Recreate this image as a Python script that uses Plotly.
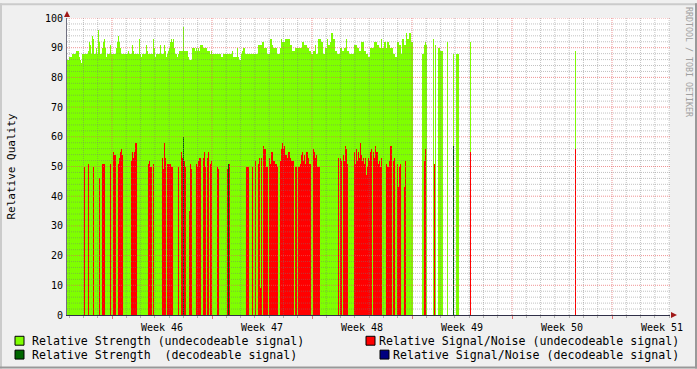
import plotly.graph_objects as go
from datetime import datetime, timedelta

# ---------------- data ----------------
# time base: one sample = 1.68 h (RRD consolidation step); sample 112 = start of ISO week 46 (2010-11-15)
ORIGIN = datetime(2010, 11, 7, 3, 50, 24)
STEP_H = 1.68
FIRST_SAMPLE, LAST_SAMPLE = 67, 670

# Relative Strength (undecodeable signal): continuous samples 67..412
strength_undec_main = [
    86, 86, 87, 87, 87, 88, 88, 88, 88, 89,
    89, 89, 87, 86, 85, 88, 88, 88, 88, 88,
    88, 89, 92, 91, 88, 94, 93, 88, 88, 90,
    88, 96, 92, 88, 88, 90, 92, 93, 90, 87,
    88, 88, 88, 91, 88, 88, 88, 88, 88, 90,
    92, 94, 92, 90, 88, 88, 88, 88, 88, 88,
    88, 89, 88, 88, 88, 91, 89, 88, 88, 88,
    88, 88, 93, 88, 87, 88, 88, 88, 88, 91,
    89, 88, 88, 88, 88, 88, 93, 90, 87, 88,
    88, 88, 88, 91, 88, 88, 88, 91, 89, 87,
    88, 89, 90, 92, 93, 92, 93, 90, 88, 88,
    87, 88, 89, 89, 89, 89, 97, 89, 89, 89,
    89, 87, 86, 86, 86, 90, 90, 90, 89, 90,
    89, 90, 89, 91, 91, 91, 90, 90, 90, 90,
    89, 89, 89, 88, 89, 88, 88, 88, 88, 88,
    88, 88, 88, 88, 87, 87, 88, 88, 88, 88,
    88, 88, 88, 88, 88, 89, 87, 87, 87, 87,
    90, 87, 86, 86, 88, 89, 90, 90, 88, 88,
    88, 88, 88, 88, 88, 88, 88, 88, 88, 88,
    88, 91, 91, 91, 91, 92, 92, 90, 90, 90,
    88, 88, 88, 93, 93, 91, 90, 90, 90, 90,
    88, 88, 88, 90, 93, 92, 92, 92, 93, 93,
    93, 93, 93, 91, 91, 89, 89, 89, 90, 90,
    90, 90, 90, 90, 90, 92, 92, 91, 91, 91,
    90, 90, 89, 89, 88, 88, 89, 89, 91, 88,
    88, 93, 93, 93, 92, 92, 88, 88, 90, 90,
    93, 91, 91, 92, 95, 95, 93, 93, 89, 89,
    88, 88, 88, 90, 90, 89, 89, 90, 90, 93,
    89, 89, 88, 88, 88, 88, 88, 91, 91, 91,
    90, 90, 89, 89, 92, 92, 92, 89, 89, 88,
    88, 87, 87, 90, 90, 90, 90, 92, 92, 92,
    91, 91, 90, 90, 93, 90, 90, 92, 92, 90,
    92, 92, 91, 90, 90, 90, 88, 88, 87, 87,
    92, 92, 91, 91, 88, 93, 93, 91, 91, 95,
    93, 93, 95, 95, 92, 92,
]
# Relative Strength (undecodeable signal): isolated later samples
strength_undec_late_s = [422, 423, 424, 425, 426, 433, 435, 438, 439, 440, 441, 442, 447, 453, 456, 457, 458, 470, 575]
strength_undec_late_v = [88, 88, 91, 92, 91, 93, 91, 90, 90, 89, 89, 89, 92, 88, 88, 88, 88, 92, 89]

# Relative Signal/Noise (undecodeable signal)
snr_undec_s = [
    84, 88, 93, 99, 102, 103, 104, 110, 113, 114, 115, 118, 119, 120, 121, 122,
    131, 132, 133, 134, 135, 136, 148, 149, 150, 151, 153, 162, 163, 164, 165,
    167, 168, 169, 170, 171, 172, 178, 181, 182, 183, 184, 185, 189, 190, 191,
    196, 197, 198, 199, 200, 203, 204, 205, 207, 208, 210, 211, 217, 218, 227, 229,
    246, 247, 248, 252, 255, 258, 259, 260, 261, 263, 264, 265, 266, 267, 269, 270,
    271, 272, 273, 274, 275, 276, 277, 280, 281, 282, 283, 284, 285, 286, 287, 288,
    289, 290, 291, 292, 293, 295, 296, 298, 299, 300, 301, 302, 303, 304, 305, 306,
    307, 308, 309, 310, 313, 314, 315, 316, 317, 318, 319, 338, 340, 341, 343, 344,
    345, 346, 347, 354, 355, 356, 357, 358, 359, 360, 361, 362, 363, 364, 365, 366,
    367, 368, 369, 370, 371, 373, 374, 375, 376, 377, 378, 379, 380, 381, 386, 387,
    388, 389, 390, 391, 393, 394, 397, 398, 399, 400, 404, 405, 424, 425, 434, 470, 575,
]
snr_undec_v = [
    50, 51, 50, 46, 51, 51, 51, 51, 55, 54, 54, 51, 53, 55, 56, 54,
    52, 55, 53, 55, 58, 58, 51, 52, 50, 50, 51, 53, 49, 58, 53,
    51, 51, 51, 51, 50, 50, 50, 55, 53, 60, 52, 50, 35, 51, 49,
    51, 50, 52, 53, 53, 53, 55, 50, 53, 55, 51, 52, 50, 49, 49, 51,
    50, 50, 50, 50, 52, 51, 53, 9, 53, 57, 56, 56, 50, 50, 53, 51,
    55, 55, 52, 52, 51, 51, 50, 52, 56, 58, 56, 57, 54, 54, 53, 55,
    55, 53, 52, 52, 52, 50, 50, 50, 50, 51, 54, 55, 52, 54, 51, 55,
    55, 53, 51, 51, 56, 55, 53, 54, 50, 50, 50, 53, 53, 52, 54, 52,
    57, 56, 51, 55, 51, 56, 52, 55, 53, 58, 54, 52, 53, 51, 53, 47,
    50, 53, 52, 55, 56, 55, 53, 57, 55, 55, 51, 52, 50, 53, 51, 50,
    50, 52, 57, 57, 52, 53, 51, 43, 50, 51, 43, 52, 52, 56, 51, 55, 56,
]

# Relative Strength (decodeable signal)
strength_dec_s = [183, 228, 453]
strength_dec_v = [60, 51, 57]

# Relative Signal/Noise (decodeable signal)
snr_dec_s = []
snr_dec_v = []

# ---------------- styling ----------------
C_GREEN = "#7FFF00"
C_RED = "#FF0000"
C_DGREEN = "#006600"
C_NAVY = "#000080"
FONT = "DejaVu Sans Mono"

W, H = 697, 369
PL, PR, PT, PB = 67, 670, 15, 315  # plot area in pixels


def t(s):
    return ORIGIN + timedelta(hours=STEP_H * (s + 0.5))


def px2x(px):
    return (px - PL) / (PR - PL)


def py2y(py):
    return (PB - py) / (PB - PT)


bar_w = STEP_H * 3600 * 1000

fig = go.Figure()
main_s = list(range(FIRST_SAMPLE, FIRST_SAMPLE + len(strength_undec_main)))
series = [
    (main_s + strength_undec_late_s, strength_undec_main + strength_undec_late_v, C_GREEN),
    (snr_undec_s, snr_undec_v, C_RED),
    (strength_dec_s, strength_dec_v, C_DGREEN),
    (snr_dec_s, snr_dec_v, C_NAVY),
]
for s_list, v_list, col in series:
    fig.add_trace(go.Bar(
        x=[t(s) for s in s_list], y=v_list, width=bar_w,
        marker=dict(color=col, line=dict(width=0)),
        hoverinfo="skip", showlegend=False,
    ))

x0 = ORIGIN + timedelta(hours=STEP_H * FIRST_SAMPLE)
x1 = ORIGIN + timedelta(hours=STEP_H * LAST_SAMPLE)

shapes = []
# grid drawn above the data, like rrdtool
MINOR = "rgba(120,120,120,0.45)"
MAJOR = "rgba(230,90,90,0.65)"
d = datetime(x0.year, x0.month, x0.day) + timedelta(days=1)
while d < x1:
    shapes.append(dict(type="line", xref="x", yref="paper", x0=d, x1=d, y0=0, y1=1,
                       line=dict(color=MAJOR if d.weekday() == 0 else MINOR, width=1, dash="1px,1px"),
                       layer="above"))
    d += timedelta(days=1)
for v in range(2, 101, 2):
    shapes.append(dict(type="line", xref="paper", yref="y", x0=0, x1=1, y0=v, y1=v,
                       line=dict(color=MAJOR if v % 10 == 0 else MINOR, width=1, dash="1px,1px"),
                       layer="above"))

# axis arrows
ARROW = "#A01818"
shapes.append(dict(type="path", xref="paper", yref="paper",
                   path=f"M {px2x(64)} {py2y(14)} L {px2x(67)} {py2y(8)} L {px2x(70)} {py2y(14)} Z",
                   fillcolor=ARROW, line=dict(width=0), layer="above"))
shapes.append(dict(type="path", xref="paper", yref="paper",
                   path=f"M {px2x(671)} {py2y(312)} L {px2x(677)} {py2y(315)} L {px2x(671)} {py2y(318)} Z",
                   fillcolor=ARROW, line=dict(width=0), layer="above"))

# outer 3D frame
def pline(xa, ya, xb, yb, col):
    shapes.append(dict(type="line", xref="paper", yref="paper",
                       x0=px2x(xa), y0=py2y(ya), x1=px2x(xb), y1=py2y(yb),
                       line=dict(color=col, width=2), layer="above"))

pline(0, 1, W, 1, "#CBCBCB")
pline(1, 0, 1, H, "#CBCBCB")
pline(0, H - 1, W, H - 1, "#999999")
pline(W - 1, 0, W - 1, H, "#999999")

# legend
annotations = []
LEG_FS = 11.6
legend_items = [
    (15, 341, C_GREEN, "Relative Strength (undecodeable signal)", 30, "left"),
    (366, 341, C_RED, "Relative Signal/Noise (undecodeable signal)", 681, "right"),
    (15, 355, C_DGREEN, "Relative Strength \u00a0(decodeable signal)", 30, "left"),
    (380, 355, C_NAVY, "Relative Signal/Noise (decodeable signal)", 681, "right"),
]
for bx, cy, col, txt, tx, anchor in legend_items:
    shapes.append(dict(type="rect", xref="paper", yref="paper",
                       x0=px2x(bx), x1=px2x(bx + 9), y0=py2y(cy - 4.5), y1=py2y(cy + 4.5),
                       fillcolor=col, line=dict(color="#000000", width=1), layer="above"))
    annotations.append(dict(xref="paper", yref="paper", x=px2x(tx), y=py2y(cy),
                            xanchor=anchor, yanchor="middle", text=txt, showarrow=False,
                            font=dict(family=FONT, size=LEG_FS, color="#000000")))

annotations.append(dict(xref="paper", yref="paper", x=px2x(11), y=0.5, text="Relative Quality",
                        textangle=-90, showarrow=False, xanchor="center", yanchor="middle",
                        font=dict(family=FONT, size=11, color="#000000")))
annotations.append(dict(xref="paper", yref="paper", x=px2x(689.5), y=py2y(59),
                        text="RRDTOOL / TOBI OETIKER", textangle=90, showarrow=False,
                        xanchor="center", yanchor="middle",
                        font=dict(family=FONT, size=8.3, color="#A0A0A0")))

fig.update_layout(
    width=W, height=H,
    margin=dict(l=PL, r=W - PR, t=PT, b=H - PB, pad=0),
    paper_bgcolor="#F0F0F0", plot_bgcolor="#FFFFFF",
    barmode="overlay", bargap=0,
    shapes=shapes, annotations=annotations,
    font=dict(family=FONT, size=10, color="#000000"),
    xaxis=dict(
        type="date", range=[x0, x1],
        tick0="2010-11-15", dtick=7 * 86400000, tickformat="Week %V", ticklabelmode="period",
        showgrid=False, zeroline=False,
        showline=True, linecolor="#303048", linewidth=1,
        ticks="outside", ticklen=3, tickcolor="#E07070",
        minor=dict(dtick=86400000, ticks="outside", ticklen=2, tickcolor="#B0B0B0", showgrid=False),
        tickfont=dict(family=FONT, size=10, color="#000000"),
        fixedrange=True,
    ),
    yaxis=dict(
        range=[0, 100], tick0=0, dtick=10,
        showgrid=False, zeroline=False,
        showline=True, linecolor="#707080", linewidth=1,
        ticks="", ticklen=0,
        tickfont=dict(family=FONT, size=10, color="#000000"),
        ticklabelstandoff=1,
        fixedrange=True,
    ),
)

fig.write_html("out.html")
